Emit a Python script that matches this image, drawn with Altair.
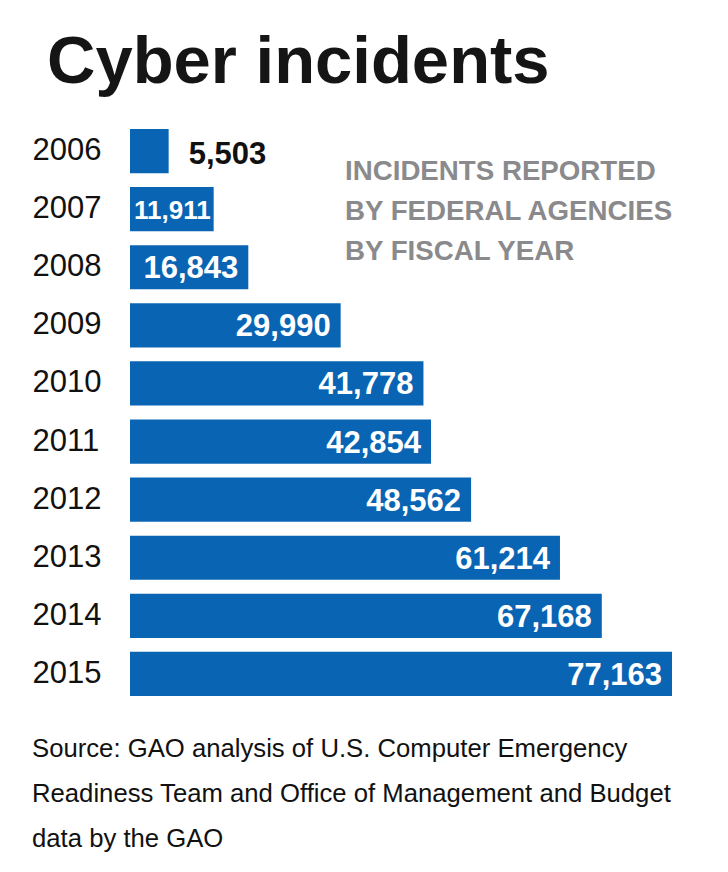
import altair as alt
import pandas as pd

years = ["2006", "2007", "2008", "2009", "2010", "2011", "2012", "2013", "2014", "2015"]
incidents = [5503, 11911, 16843, 29990, 41778, 42854, 48562, 61214, 67168, 77163]

title_text = "Cyber incidents"
note_lines = ["INCIDENTS REPORTED", "BY FEDERAL AGENCIES", "BY FISCAL YEAR"]
source_lines = [
    "Source: GAO analysis of U.S. Computer Emergency",
    "Readiness Team and Office of Management and Budget",
    "data by the GAO",
]

df = pd.DataFrame({"year": years, "incidents": incidents})

FONT = "Liberation Sans, Arial, sans-serif"
BLUE = "#0a64b4"

y_enc = alt.Y(
    "year:N",
    sort=years,
    scale=alt.Scale(paddingInner=0.24, paddingOuter=0.12),
    axis=alt.Axis(
        title=None, domain=False, ticks=False, labelAlign="left", labelPadding=98,
        labelFontSize=31, labelFont=FONT, labelColor="#111111", labelBaseline="middle",
    ),
)
x_enc = alt.X("incidents:Q", scale=alt.Scale(domain=[0, 77163], nice=False, zero=True), axis=None)

base = alt.Chart(df)

bars = base.mark_bar(color=BLUE).encode(x=x_enc, y=y_enc)

labels_in = base.transform_filter("datum.incidents > 15000").mark_text(
    align="right", baseline="middle", dx=-10, dy=2, font=FONT, fontSize=31,
    fontWeight="bold", color="white",
).encode(x=x_enc, y=y_enc, text=alt.Text("incidents:Q", format=","))

labels_small = base.transform_filter(
    "datum.incidents > 10000 && datum.incidents <= 15000"
).mark_text(
    align="right", baseline="middle", dx=-3, dy=2, font=FONT, fontSize=26,
    fontWeight="bold", color="white",
).encode(x=x_enc, y=y_enc, text=alt.Text("incidents:Q", format=","))

labels_out = base.transform_filter("datum.incidents <= 10000").mark_text(
    align="left", baseline="middle", dx=20, dy=4, font=FONT, fontSize=31,
    fontWeight="bold", color="#111111",
).encode(x=x_enc, y=y_enc, text=alt.Text("incidents:Q", format=","))

title = alt.Chart(alt.Data(values=[{}])).mark_text(
    align="left", baseline="alphabetic", font=FONT, fontSize=67, fontWeight="bold",
    color="#151515",
).encode(x=alt.value(-83), y=alt.value(-39), text=alt.value(title_text))

note = alt.Chart(alt.Data(values=[{}])).mark_text(
    align="left", baseline="top", font=FONT, fontSize=27.7, fontWeight="bold",
    color="#8a8a8c", lineHeight=40,
).encode(x=alt.value(215), y=alt.value(36), text=alt.value(note_lines))

source = alt.Chart(alt.Data(values=[{}])).mark_text(
    align="left", baseline="top", font=FONT, fontSize=25.7, color="#111111", lineHeight=45,
).encode(x=alt.value(-98), y=alt.value(615), text=alt.value(source_lines))

chart = alt.layer(bars, labels_in, labels_small, labels_out, title, note, source).properties(
    width=542,
    height=581,
    padding={"left": 122, "top": 114, "right": 40, "bottom": 170},
    autosize=alt.AutoSizeParams(type="none"),
    background="white",
).configure_view(stroke=None)

chart.save("out.html", embed_options={"renderer": "svg", "actions": False})
